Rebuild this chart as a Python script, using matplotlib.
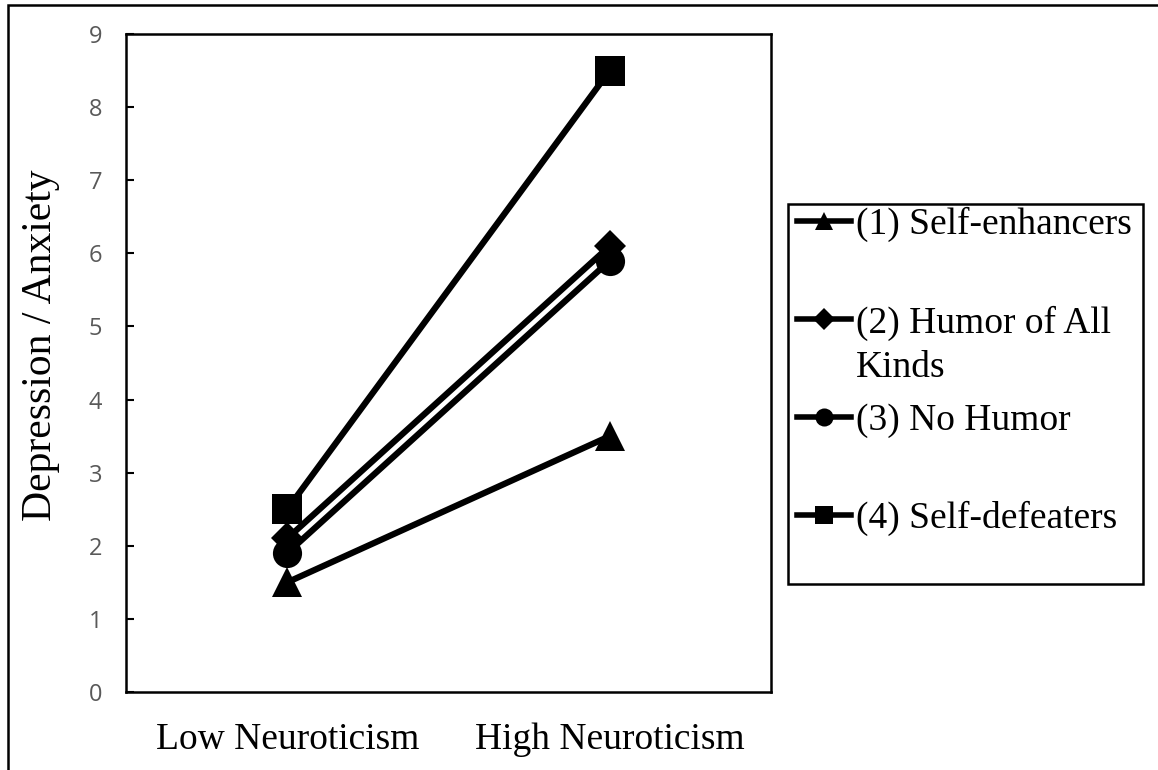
import numpy as np
import matplotlib
matplotlib.use("Agg")
import matplotlib.pyplot as plt
from matplotlib.lines import Line2D
from matplotlib.patches import Rectangle

# data
groups = ["Low Neuroticism", "High Neuroticism"]
series_names = ["(1) Self-enhancers", "(2) Humor of All", "(3) No Humor", "(4) Self-defeaters"]
self_enhancers = [1.5, 3.5]
humor_all_kinds = [2.1, 6.1]
no_humor = [1.9, 5.9]
self_defeaters = [2.5, 8.5]
yticks = [0, 1, 2, 3, 4, 5, 6, 7, 8, 9]

values = [self_enhancers, humor_all_kinds, no_humor, self_defeaters]
markers = ["^", "D", "o", "s"]
msizes = [21, 16, 21, 21]
leg_msizes = [13, 11, 13, 13]

serif = "Liberation Serif"

fig = plt.figure(figsize=(11.58, 7.70), dpi=100)
ax = fig.add_axes([126/1158, 1-692/770, (771-126)/1158, (692-34)/770])

x = np.arange(len(groups))
for vals, m, ms in zip(values, markers, msizes):
    ax.plot(x, vals, color="black", lw=4.5, marker=m, markersize=ms,
            markeredgewidth=0, solid_capstyle="butt", zorder=3)

ax.set_xlim(-0.5, 1.5)
ax.set_ylim(0, 9)
ax.set_yticks(yticks)
ax.set_xticks(x)
ax.set_xticklabels(groups, fontsize=27, family=serif, color="black")
ax.tick_params(axis="x", length=0, pad=22)
ax.tick_params(axis="y", direction="in", length=6, width=1.5, color="black",
               labelsize=17, labelcolor="#595959", pad=17)
for lab in ax.get_yticklabels():
    lab.set_family("Open Sans")
for sp in ax.spines.values():
    sp.set_linewidth(1.8)
    sp.set_color("black")
ax.set_ylabel("Depression / Anxiety", fontsize=30, family=serif)
ax.yaxis.set_label_coords(-0.103, 0.527)

# legend
handles = [Line2D([], [], color="black", lw=4, marker=m, markersize=ms, markeredgewidth=0)
           for m, ms in zip(markers, leg_msizes)]
leg = fig.legend(handles, series_names, loc="upper left",
                 bbox_to_anchor=(797/1158, 1-207/770), bbox_transform=fig.transFigure,
                 frameon=False, prop={"family": serif, "size": 27},
                 handlelength=1.45, handletextpad=0.12, labelspacing=1.68,
                 borderpad=0, borderaxespad=0)
fig.add_artist(Rectangle((788/1158, 1-584/770), (1143-788)/1158, (584-204)/770,
                         transform=fig.transFigure, fill=False, lw=1.8, ec="black"))

fig.canvas.draw()
r = fig.canvas.get_renderer()
bb = leg.get_texts()[1].get_window_extent(r)
fig.text(bb.x0/1158, (bb.y0 - 44)/770, "Kinds", fontsize=27, family=serif,
         ha="left", va="bottom")

# outer frame (top and left edges visible)
fig.add_artist(Rectangle((8/1158, -0.1), 1.2, 1.1 - 5/770,
                         transform=fig.transFigure, fill=False, lw=1.8, ec="black"))

fig.savefig("out.png", dpi=100)
